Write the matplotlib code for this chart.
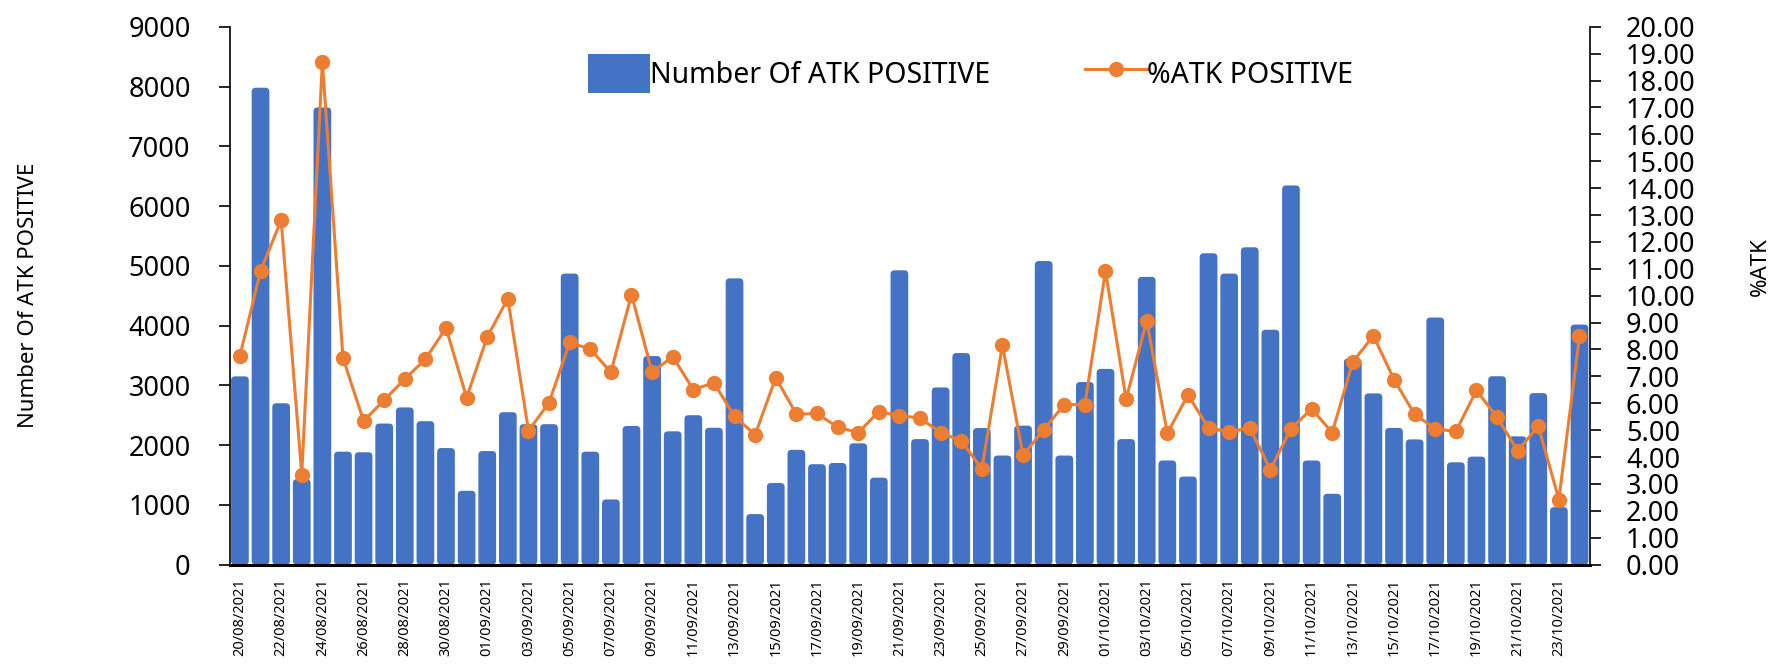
import matplotlib
matplotlib.use("Agg")
import matplotlib.pyplot as plt
import numpy as np
import pandas as pd
from matplotlib.patches import FancyBboxPatch, Patch

plt.rcParams["font.family"] = ["Noto Sans", "DejaVu Sans"]

# วันที่ 20/08/2021 - 24/10/2021
dates = pd.date_range("2021-08-20", "2021-10-24", freq="D")
date_labels = [d.strftime("%d/%m/%Y") for d in dates]

atk_positive = [
    3150, 7980, 2700, 1430, 7650, 1890, 1880, 2360, 2630, 2400,
    1950, 1235, 1900, 2550, 2350, 2350, 4870, 1890, 1090, 2320,
    3490, 2230, 2500, 2290, 4790, 845, 1365, 1920, 1680, 1700,
    2030, 1455, 4925, 2100, 2965, 3540, 2285, 1825, 2325, 5080,
    1825, 3055, 3275, 2100, 4815, 1742, 1473, 5210, 4870, 5310,
    3930, 6345, 1742, 1185, 3450, 2865, 2287, 2095, 4135, 1712,
    1807, 3152, 2146, 2870, 961, 4017,
]

pct_positive = [
    7.76, 10.92, 12.81, 3.35, 18.69, 7.69, 5.34, 6.12, 6.90, 7.64,
    8.80, 6.21, 8.47, 9.89, 4.98, 6.02, 8.26, 8.01, 7.16, 10.04,
    7.16, 7.73, 6.51, 6.76, 5.51, 4.83, 6.95, 5.59, 5.62, 5.11,
    4.91, 5.69, 5.54, 5.45, 4.91, 4.60, 3.56, 8.16, 4.06, 5.02,
    5.95, 5.95, 10.92, 6.15, 9.07, 4.88, 6.31, 5.08, 4.94, 5.08,
    3.53, 5.05, 5.79, 4.91, 7.54, 8.51, 6.88, 5.59, 5.05, 4.95,
    6.48, 5.48, 4.23, 5.15, 2.42, 8.50,
]

bar_color = "#4472C4"
line_color = "#ED7D31"

fig = plt.figure(figsize=(17.69, 6.65), dpi=100)
ax = fig.add_axes([0.1298, 0.151, 0.7689, 0.8087])
ax2 = ax.twinx()

ax.set_xlim(-0.5, len(dates) - 0.5)
ax.set_ylim(0, 9000)
ax2.set_ylim(0, 20)

x = np.arange(len(dates))
bars = ax.bar(x, atk_positive, width=0.86, color=bar_color, zorder=2)

# มุมบนของแท่งโค้งแบบ Excel
fig.canvas.draw()
bb = ax.get_window_extent()
px_x = (ax.get_xlim()[1] - ax.get_xlim()[0]) / bb.width
px_y = (ax.get_ylim()[1] - ax.get_ylim()[0]) / bb.height
for b in bars:
    b.set_visible(False)
    r = FancyBboxPatch((b.get_x(), b.get_y()), b.get_width(), b.get_height(),
                       boxstyle=f"round,pad=0,rounding_size={4 * px_x}",
                       mutation_aspect=px_y / px_x,
                       facecolor=bar_color, edgecolor="none", zorder=2)
    ax.add_patch(r)

line, = ax2.plot(x, pct_positive, color=line_color, lw=2.2, marker="o",
                 markersize=10, zorder=3)

ax.set_yticks(np.arange(0, 9001, 1000))
ax2.set_yticks(np.arange(0, 20.01, 1))
ax2.set_yticklabels([f"{v:.2f}" for v in np.arange(0, 20.01, 1)])

ax.set_xticks(x[::2])
ax.set_xticklabels(date_labels[::2], rotation=90, fontsize=10.5)
ax.tick_params(axis="x", length=0, pad=10)
ax.tick_params(axis="y", direction="out", length=8, width=1.2, pad=20,
               labelsize=19.5)
ax2.tick_params(axis="y", direction="out", length=8, width=1.2, pad=18,
                labelsize=19.5)

for a in (ax, ax2):
    a.spines["top"].set_visible(False)
ax.spines["right"].set_visible(False)
ax2.spines["left"].set_visible(False)
ax2.spines["bottom"].set_visible(False)
ax.spines["bottom"].set_linewidth(2.2)
ax.spines["bottom"].set_zorder(5)
ax.spines["left"].set_linewidth(1.2)
ax2.spines["right"].set_linewidth(1.2)

ax.set_ylabel("Number Of ATK POSITIVE", fontsize=16)
ax.yaxis.set_label_coords(-0.14, 0.5)
ax2.set_ylabel("%ATK", fontsize=16)
ax2.yaxis.set_label_coords(1.118, 0.555)

bar_handle = Patch(facecolor=bar_color, edgecolor="none")
ax2.legend([bar_handle, line], ["Number Of ATK POSITIVE", "%ATK POSITIVE"],
           loc="upper left", bbox_to_anchor=(0.255, 0.97), ncol=2,
           frameon=False, fontsize=20.5, handlelength=2.2, handleheight=1.7,
           handletextpad=0.0, columnspacing=3.3, borderaxespad=0)

fig.savefig("out.png", dpi=100)
